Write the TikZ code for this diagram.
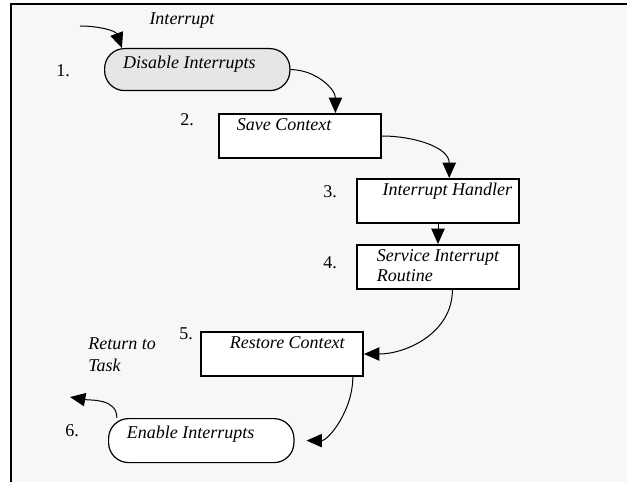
\documentclass[tikz,border=0pt]{standalone}
\usepackage{fontspec}
\setmainfont{Liberation Serif}
\usetikzlibrary{arrows.meta}
\definecolor{pagegray}{HTML}{F7F7F7}
\definecolor{pillgray}{HTML}{E6E6E6}

\begin{document}
\begin{tikzpicture}[x=0.75pt, y=0.75pt,
		num/.style={font=\fontsize{13.5}{15}\selectfont},
		lbl/.style={font=\fontsize{13.5}{15}\selectfont\itshape},
		box/.style={draw, line width=1.5pt, fill=white, anchor=north west, minimum width=121.5pt, minimum height=33pt, inner ysep=3pt, text height=9.5pt, text depth=17.5pt, lbl},
		pill/.style={draw, line width=0.9pt, fill=white, rounded corners=15pt, anchor=north west, minimum width=139pt, minimum height=31.5pt, inner ysep=5.5pt, text height=9.5pt, text depth=11pt, lbl},
		flow/.style={line width=0.75pt, -{Triangle[length=11.5pt,width=10pt]}}]
		\useasboundingbox (0,0) rectangle (627,482);
		\fill[pagegray] (11,0) rectangle (627,478);
		\draw[line width=1.5pt] (11,0) -- (11,478) -- (627,478);

		\node[pill, fill=pillgray] (dis) at (104,434) {Disable Interrupts\hspace*{12pt}};
		\node[box] (save) at (218,369) {Save Context\hspace*{24pt}};
		\node[box] (hand) at (356,304) {\hspace*{14pt}Interrupt Handler};
		\node[box, align=left, text height=24.5pt, text depth=2.5pt] (serv) at (356,238) {Service Interrupt\\Routine};
		\node[box] (rest) at (200,151) {\hspace*{8pt}Restore Context};
		\node[pill, minimum height=33pt, text depth=12pt] (ene) at (108,64) {Enable Interrupts\hspace*{16pt}};

		\node[num] (n1) at (63,411) {1.};
		\node[num] (n2) at (187,362) {2.};
		\node[num] (n3) at (330,290) {3.};
		\node[num] (n4) at (330,219) {4.};
		\node[num] (n5) at (186,148) {5.};
		\node[num] (n6) at (72,51) {6.};
		\node[lbl] (irqtext) at (182,461) {Interrupt};
		\node[lbl, align=left, anchor=north west, inner sep=0pt] (rettext) at (88,145) {Return to\\[1.5pt]Task};

		\coordinate (irq) at (80,456);
		\coordinate (ret) at (70,85);
		\draw[flow] (irq) to[out=0,in=110] (dis.164);
		\draw[flow] (dis.east) to[out=0,in=90] (save.33);
		\draw[flow] (save.east) to[out=0,in=90] (hand.64);
		\draw[flow] (hand.south) -- (serv.north);
		\draw[flow] (serv.-58) to[out=-90,in=0] (rest.east);
		\draw[flow, shorten >=9pt] (rest.-18) to[out=-90,in=0] (ene.east);
		\draw[flow] (ene.165) to[out=90,in=-10] (ret);
\end{tikzpicture}
\end{document}
